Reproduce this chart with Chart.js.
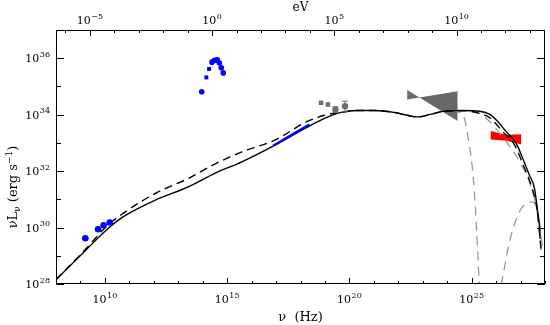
<!DOCTYPE html>
<html>
<head>
<meta charset="utf-8">
<script src="https://cdn.jsdelivr.net/npm/chart.js@4/dist/chart.umd.min.js"></script>
<style>
  html, body { margin: 0; padding: 0; background: #fff; }
  #wrap { width: 550px; height: 325px; position: relative; }
</style>
</head>
<body>
<div id="wrap"><canvas id="sed"></canvas></div>
<script>
// everything is log10: nu in Hz, L in erg/s
const EV_HZ = 14.3835; // log10(1 eV / h)

const xTickPowers = [10, 15, 20, 25];
const eVTickPowers = [-5, 0, 5, 10];
const yTickPowers = [28, 30, 32, 34, 36];

// model curves
const solidNu = [8.00, 9.22, 10.03, 10.71, 12.06, 13.41, 14.49, 15.60, 16.82, 18.30, 18.98, 19.66, 20.33, 21.01, 21.82, 22.36, 22.77, 23.31, 23.85, 24.66, 25.33, 25.74, 26.01, 26.42, 26.82, 27.09, 27.36, 27.57, 27.70, 27.77, 27.80];
const solidL = [28.15, 29.20, 29.89, 30.36, 30.97, 31.44, 31.92, 32.33, 32.86, 33.57, 33.87, 34.08, 34.15, 34.15, 34.08, 33.98, 33.92, 34.01, 34.12, 34.15, 34.12, 34.01, 33.81, 33.39, 32.98, 32.45, 31.86, 31.39, 30.56, 30.09, 29.60];

const dashNu = [8.00, 9.22, 10.03, 10.71, 12.06, 13.41, 14.49, 15.60, 16.95, 18.30, 18.98, 19.66, 20.33, 21.01, 21.82, 22.36, 22.77, 23.31, 23.85, 24.66, 25.33, 25.74, 26.28, 26.76, 27.11, 27.43, 27.68, 27.84];
const dashL = [28.15, 29.24, 30.01, 30.48, 31.21, 31.74, 32.25, 32.68, 33.10, 33.77, 33.98, 34.08, 34.15, 34.15, 34.08, 33.98, 33.92, 34.01, 34.12, 34.14, 34.04, 33.89, 33.39, 32.92, 32.21, 31.50, 30.62, 29.20];

const grayANu = [24.20, 24.45, 24.66, 24.86, 25.07, 25.20, 25.31];
const grayAL = [34.14, 34.10, 33.98, 33.16, 31.74, 29.97, 28.00];
const grayBNu = [25.00, 25.33, 25.74, 26.42, 26.96, 27.36, 27.77, 27.91];
const grayBL = [34.13, 34.04, 33.75, 33.04, 32.33, 31.62, 30.21, 29.27];
const grayCNu = [26.21, 26.55, 26.89, 27.23, 27.50, 27.70, 27.84];
const grayCL = [27.96, 29.50, 30.44, 30.86, 30.91, 30.44, 29.20];

// observations
const radioNu = [9.20, 9.72, 9.95, 10.20];
const radioL = [29.62, 29.94, 30.08, 30.18];
const optNu = [13.96, 14.15, 14.26, 14.38, 14.48, 14.60, 14.68, 14.76, 14.84];
const optL = [34.81, 35.32, 35.62, 35.86, 35.93, 35.94, 35.83, 35.66, 35.48];
const optShape = ['circle', 'rect', 'rect', 'circle', 'circle', 'circle', 'circle', 'circle', 'circle'];
const xrayNu = [16.88, 18.37];
const xrayL = [32.90, 33.65];
const hardNu = [18.84, 19.12, 19.43, 19.82];
const hardL = [34.42, 34.36, 34.18, 34.30];
const hardShape = ['rect', 'rect', 'circle', 'circle'];
const hardLo = [null, null, 34.08, 34.10];
const hardHi = [null, null, 34.28, 34.48];

// GeV bowtie: two crossing edges; TeV band: upper and lower edge
const gevNu = [22.36, 24.43];
const gevEdgeA = [34.87, 33.78];
const gevEdgeB = [34.54, 34.83];
const tevNu = [25.77, 26.42, 27.03];
const tevTop = [33.42, 33.29, 33.31];
const tevBottom = [33.12, 33.08, 32.94];

const pts = (xs, ys) => xs.map((x, i) => ({ x: x, y: ys[i] }));

const line = (xs, ys, color, width, dash, order) => ({
  data: pts(xs, ys), showLine: true, borderColor: color, borderWidth: width,
  borderDash: dash, pointRadius: 0, fill: false, order: order,
  cubicInterpolationMode: 'monotone'
});

const edge = (xs, ys, color, fillTarget) => ({
  data: pts(xs, ys), showLine: true, borderWidth: 0, borderColor: color,
  backgroundColor: color, pointRadius: 0, fill: fillTarget, order: 10
});

const datasets = [
  edge(gevNu, gevEdgeA, '#686868', '+1'),
  edge(gevNu, gevEdgeB, '#686868', false),
  edge(tevNu, tevTop, '#ff0000', '+1'),
  edge(tevNu, tevBottom, '#ff0000', false),
  line(grayANu, grayAL, '#9a9a9a', 1.3, [9, 6], 6),
  line(grayBNu, grayBL, '#9a9a9a', 1.3, [9, 6], 6),
  line(grayCNu, grayCL, '#9a9a9a', 1.3, [9, 6], 6),
  line(dashNu, dashL, '#000', 1.4, [8, 5], 5),
  line(solidNu, solidL, '#000', 1.4, [], 4),
  line(xrayNu, xrayL, '#0000ff', 2.5, [], 3),
  {
    data: pts(radioNu, radioL), pointRadius: 3.3, pointBackgroundColor: '#0000ff',
    pointBorderWidth: 0, showLine: false, order: 1
  },
  {
    data: pts(optNu, optL), pointRadius: 2.8, pointStyle: optShape,
    pointBackgroundColor: '#0000ff', pointBorderWidth: 0, showLine: false, order: 1
  },
  {
    data: pts(hardNu, hardL), pointRadius: 3.2, pointStyle: hardShape,
    pointBackgroundColor: '#6e6e6e', pointBorderWidth: 0, showLine: false, order: 1
  }
];

hardLo.forEach((lo, i) => {
  if (lo === null) return;
  datasets.push({
    data: [{ x: hardNu[i], y: lo }, { x: hardNu[i], y: hardHi[i] }],
    showLine: true, borderColor: '#6e6e6e', borderWidth: 1,
    pointStyle: 'line', pointRadius: 3, pointBorderColor: '#6e6e6e',
    pointBorderWidth: 1, order: 2
  });
});

const SERIF = '"DejaVu Serif", serif';

function drawPow(ctx, exp, x, base, align) {
  const b = '10';
  const e = String(exp).replace('-', '\u2212');
  ctx.font = '11px ' + SERIF;
  const wb = ctx.measureText(b).width;
  ctx.font = '8px ' + SERIF;
  const we = ctx.measureText(e).width;
  const w = wb + we + 0.5;
  let left = align === 'right' ? x - w : x - w / 2;
  ctx.textAlign = 'left';
  ctx.textBaseline = 'alphabetic';
  ctx.font = '11px ' + SERIF;
  ctx.fillText(b, left, base);
  ctx.font = '8px ' + SERIF;
  ctx.fillText(e, left + wb + 0.5, base - 5.5);
}

function drawPieces(ctx, pieces, cx, base) {
  let total = 0;
  pieces.forEach(p => { ctx.font = p.f; p.w = ctx.measureText(p.t).width; total += p.w; });
  let x = cx - total / 2;
  ctx.textAlign = 'left';
  ctx.textBaseline = 'alphabetic';
  pieces.forEach(p => { ctx.font = p.f; ctx.fillText(p.t, x, base + (p.dy || 0)); x += p.w; });
}

const axesDeco = {
  id: 'axesDeco',
  afterDraw(chart) {
    const { ctx, chartArea: a, scales } = chart;
    ctx.save();
    ctx.strokeStyle = '#000';
    ctx.fillStyle = '#000';
    ctx.lineWidth = 1;
    ctx.strokeRect(a.left + 0.5, a.top + 0.5, a.right - a.left - 1, a.bottom - a.top - 1);

    ctx.beginPath();
    for (let v = Math.ceil(scales.x.min); v <= scales.x.max; v++) {
      const px = Math.round(scales.x.getPixelForValue(v)) + 0.5;
      const len = v % 5 === 0 ? 6 : 3;
      ctx.moveTo(px, a.bottom); ctx.lineTo(px, a.bottom - len);
    }
    for (let v = Math.ceil(scales.x2.min); v <= scales.x2.max; v++) {
      const px = Math.round(scales.x2.getPixelForValue(v)) + 0.5;
      const len = v % 5 === 0 ? 6 : 3;
      ctx.moveTo(px, a.top); ctx.lineTo(px, a.top + len);
    }
    for (let v = Math.ceil(scales.y.min); v <= scales.y.max; v++) {
      const py = Math.round(scales.y.getPixelForValue(v)) + 0.5;
      const len = v % 2 === 0 ? 8 : 5;
      ctx.moveTo(a.left, py); ctx.lineTo(a.left + len, py);
      ctx.moveTo(a.right, py); ctx.lineTo(a.right - len, py);
    }
    ctx.stroke();

    xTickPowers.forEach(p => drawPow(ctx, p, scales.x.getPixelForValue(p), a.bottom + 19, 'center'));
    eVTickPowers.forEach(p => drawPow(ctx, p, scales.x2.getPixelForValue(p), a.top - 6, 'center'));
    yTickPowers.forEach(p => drawPow(ctx, p, a.left - 6, scales.y.getPixelForValue(p) + 4, 'right'));

    const mid = (a.left + a.right) / 2;
    const f12 = '12px ' + SERIF, f9 = '9px ' + SERIF;
    drawPieces(ctx, [{ t: '\u03bd  (Hz)', f: '13px ' + SERIF }], mid, a.bottom + 37);
    drawPieces(ctx, [{ t: 'eV', f: f12 }], mid, 10.5);

    ctx.save();
    ctx.translate(17, (a.top + a.bottom) / 2 + 30);
    ctx.rotate(-Math.PI / 2);
    drawPieces(ctx, [
      { t: '\u03bdL', f: '13px ' + SERIF },
      { t: '\u03bd', f: f9, dy: 3 },
      { t: ' (erg s', f: '13px ' + SERIF },
      { t: '\u22121', f: f9, dy: -5 },
      { t: ')', f: '13px ' + SERIF }
    ], 0, 0);
    ctx.restore();
    ctx.restore();
  }
};

const hidden = { display: false };

new Chart(document.getElementById('sed'), {
  type: 'scatter',
  data: { datasets: datasets },
  options: {
    responsive: true,
    maintainAspectRatio: false,
    animation: false,
    layout: { padding: { right: 1 } },
    plugins: { legend: hidden, tooltip: { enabled: false } },
    scales: {
      x: {
        type: 'linear', position: 'bottom', min: 8, max: 28,
        ticks: hidden, grid: hidden, border: hidden,
        afterFit: s => { s.height = 41; }
      },
      x2: {
        type: 'linear', position: 'top', min: 8 - EV_HZ, max: 28 - EV_HZ,
        ticks: hidden, grid: hidden, border: hidden,
        afterFit: s => { s.height = 30; }
      },
      y: {
        type: 'linear', position: 'left', min: 28, max: 37,
        ticks: hidden, grid: hidden, border: hidden,
        afterFit: s => { s.width = 56; }
      }
    }
  },
  plugins: [axesDeco]
});
</script>
</body>
</html>
